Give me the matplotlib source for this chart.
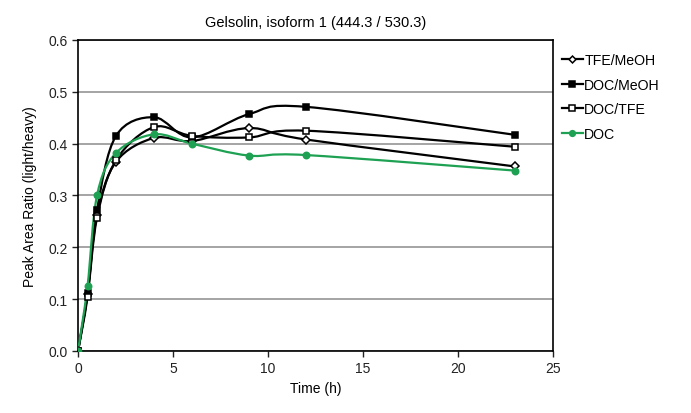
import numpy as np
import matplotlib
matplotlib.use('Agg')
import matplotlib.pyplot as plt
from matplotlib.path import Path
from matplotlib.patches import PathPatch
from matplotlib.lines import Line2D

plt.rcParams['font.family'] = ['Liberation Sans', 'DejaVu Sans']

time_h = [0, 0.5, 1, 2, 4, 6, 9, 12, 23]
tfe_meoh = [0.0, 0.11, 0.262, 0.365, 0.411, 0.405, 0.430, 0.408, 0.356]
doc_meoh = [0.0, 0.112, 0.272, 0.415, 0.451, 0.412, 0.457, 0.471, 0.417]
doc_tfe = [0.0, 0.104, 0.257, 0.368, 0.432, 0.415, 0.412, 0.425, 0.394]
doc = [0.0, 0.125, 0.300, 0.382, 0.418, 0.400, 0.377, 0.378, 0.348]

series = [
    ('TFE/MeOH', tfe_meoh, 'black', 'D', 'white', 4.0),
    ('DOC/MeOH', doc_meoh, 'black', 's', 'black', 5.0),
    ('DOC/TFE', doc_tfe, 'black', 's', 'white', 5.0),
    ('DOC', doc, '#1ea152', 'o', '#1ea152', 4.6),
]


def smooth_path(x, y):
    # excel-like smoothed line as cubic bezier segments
    p = np.column_stack([x, y]).astype(float)
    n = len(p)
    verts = [p[0]]
    codes = [Path.MOVETO]
    for i in range(n - 1):
        p0 = p[i - 1] if i > 0 else p[i]
        p3 = p[i + 2] if i + 2 < n else p[i + 1]
        c1 = p[i] + (p[i + 1] - p0) / 6.0
        c2 = p[i + 1] - (p3 - p[i]) / 6.0
        verts += [c1, c2, p[i + 1]]
        codes += [Path.CURVE4] * 3
    return Path(verts, codes)


fig = plt.figure(figsize=(6.91, 4.14), dpi=100)
ax = fig.add_axes([0.1129, 0.1498, 0.6874, 0.7512])

handles = []
for name, vals, col, mk, fc, ms in series:
    patch = PathPatch(smooth_path(time_h, vals), fill=False, edgecolor=col, lw=1.6, zorder=3)
    ax.add_patch(patch)
    ax.plot(time_h, vals, linestyle='none', marker=mk, markersize=ms,
            markerfacecolor=fc, markeredgecolor=col, markeredgewidth=1.1, zorder=4)
    handles.append(Line2D([], [], color=col, lw=1.6, marker=mk, markersize=ms - 0.5,
                          markerfacecolor=fc, markeredgecolor=col, markeredgewidth=1.1))

ax.set_xlim(0, 25)
ax.set_ylim(0, 0.6)
ax.set_xticks(np.arange(0, 26, 5))
ax.set_yticks(np.arange(0, 0.61, 0.1))
ax.set_yticklabels(['%.1f' % v for v in np.arange(0, 0.61, 0.1)])
ax.yaxis.grid(True, color='#8c8c8c', lw=1.1)
ax.set_axisbelow(True)
for s in ax.spines.values():
    s.set_linewidth(1.2)
    s.set_color('black')
ax.tick_params(direction='out', length=4, width=1, labelsize=10, colors='#222222')

ax.set_title('Gelsolin, isoform 1 (444.3 / 530.3)', fontsize=10.5, pad=10)
ax.set_xlabel('Time (h)', fontsize=10)
ax.set_ylabel('Peak Area Ratio (light/heavy)', fontsize=10, labelpad=8)

ax.legend(handles, [s[0] for s in series], loc='upper left', bbox_to_anchor=(1.0, 0.985),
          frameon=False, fontsize=10.2, handlelength=1.5, handletextpad=0.1,
          labelspacing=0.75, borderaxespad=0.2)

fig.savefig('out.png', dpi=100)
